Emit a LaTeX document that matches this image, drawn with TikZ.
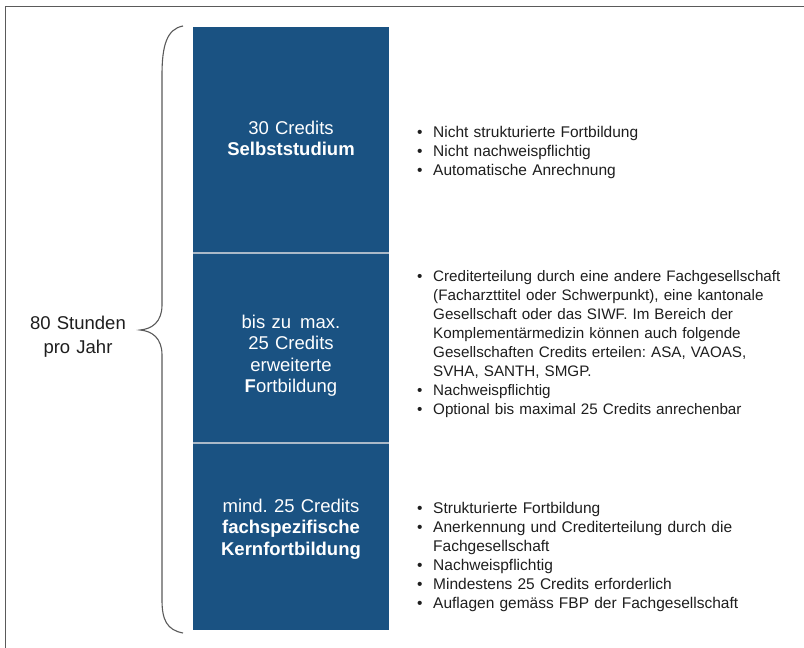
\documentclass[tikz,border=0pt]{standalone}
\usepackage{fontspec}
\setmainfont{Liberation Sans}
\frenchspacing
\definecolor{barblue}{RGB}{26,82,130}
\definecolor{sepgray}{RGB}{170,185,200}
\definecolor{txtgray}{RGB}{30,30,30}
\definecolor{framegray}{RGB}{90,90,90}
\newcommand\bul{\makebox[16pt][l]{\textbullet}}
\newcommand\ind{\hspace*{16pt}}
\tikzset{
  sect/.style={fill=barblue, draw=none, inner sep=0pt, outer sep=0pt, minimum width=196pt, anchor=north west},
  sepline/.style={draw=sepgray, line width=1.5pt},
  bartxt/.style={text=white, font=\fontsize{18.5}{21.5}\selectfont, align=center, text width=190pt, inner sep=0pt, anchor=base},
  listtxt/.style={text=txtgray, font=\fontsize{15.5}{19}\selectfont, align=left, text width=375pt, inner sep=0pt, anchor=base west},
  lbl/.style={text=txtgray, font=\fontsize{18.5}{24}\selectfont, align=center, text width=120pt, inner sep=0pt, anchor=base},
  framestyle/.style={draw=framegray, line width=1pt},
  bracestyle/.style={draw=framegray, line width=1.1pt}
}
\begin{document}
\begin{tikzpicture}[x=1pt,y=-1pt]
\useasboundingbox (0,0) rectangle (804,648);
\fill[white] (0,0) rectangle (804,648);
% frame (top and left)
\coordinate (fbl) at (5,648);
\coordinate (ftl) at (5,6);
\coordinate (ftr) at (804,6);
\draw[framestyle] (fbl) -- (ftl) -- (ftr);
% bar sections
\node[sect, minimum height=226pt] (sec1) at (193,27) {};
\node[sect, minimum height=190pt] (sec2) at (193,253) {};
\node[sect, minimum height=187pt] (sec3) at (193,443) {};
\draw[sepline] (sec1.south west) -- (sec1.south east);
\draw[sepline] (sec2.south west) -- (sec2.south east);
% bar texts
\node[bartxt] (t1) at (291,134) {30 Credits\\\textbf{Selbststudium}};
\node[bartxt] (t2) at (291,328) {bis zu\hspace{3pt} max.\\25 Credits\\erweiterte\\\textbf{F}ortbildung};
\node[bartxt] (t3) at (291,512) {mind. 25 Credits\\\textbf{fachspezifische}\\\textbf{Kernfortbildung}};
% brace
\coordinate (btop) at (183,26);
\coordinate (btip) at (140,330);
\coordinate (bbot) at (183,633);
\draw[bracestyle] (btop) .. controls (167,29) and (162,45) .. (162,75)
  -- (162,305) .. controls (162,322) and (152,329) .. (btip)
  .. controls (152,331) and (162,338) .. (162,355)
  -- (162,600) .. controls (162,620) and (167,630) .. (bbot);
\node[lbl] (hours) at (78,329) {80 Stunden\\pro Jahr};
% bullet lists
\node[listtxt] (l1) at (417,137) {\bul Nicht strukturierte Fortbildung\\
\bul Nicht nachweispflichtig\\
\bul Automatische Anrechnung};
\node[listtxt, font=\fontsize{15.2}{19}\selectfont] (l2) at (417,281) {\bul Crediterteilung durch eine andere Fachgesellschaft\\
\ind (Facharzttitel oder Schwerpunkt), eine kantonale\\
\ind Gesellschaft oder das SIWF. Im Bereich der\\
\ind Komplementärmedizin können auch folgende\\
\ind Gesellschaften Credits erteilen: ASA, VAOAS,\\
\ind SVHA, SANTH, SMGP.\\
\bul Nachweispflichtig\\
\bul Optional bis maximal 25 Credits anrechenbar};
\node[listtxt] (l3) at (417,513) {\bul Strukturierte Fortbildung\\
\bul Anerkennung und Crediterteilung durch die\\
\ind Fachgesellschaft\\
\bul Nachweispflichtig\\
\bul Mindestens 25 Credits erforderlich\\
\bul Auflagen gemäss FBP der Fachgesellschaft};
\end{tikzpicture}
\end{document}
